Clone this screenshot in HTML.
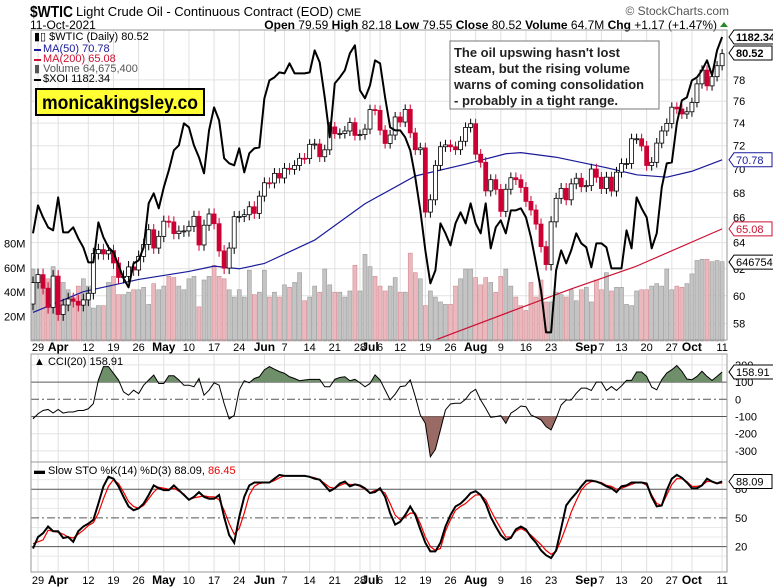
<!DOCTYPE html>
<html><head><meta charset="utf-8"><style>
html,body{margin:0;padding:0;background:#fff;}
svg{display:block;font-family:"Liberation Sans",Arial,sans-serif;}
</style></head><body>
<svg id="c" width="773" height="588" viewBox="0 0 773 588" xmlns="http://www.w3.org/2000/svg">
<text x="30" y="17" font-size="16" font-weight="bold" textLength="43" lengthAdjust="spacingAndGlyphs">$WTIC</text>
<text x="76" y="16" font-size="13">Light Crude Oil - Continuous Contract (EOD) <tspan font-size="11">CME</tspan></text>
<text x="30" y="29" font-size="12">11-Oct-2021</text>
<text x="729" y="15" font-size="12" fill="#555" text-anchor="end">© StockCharts.com</text>
<text x="717" y="29" font-size="12" text-anchor="end"><tspan font-weight="bold">Open</tspan> 79.59  <tspan font-weight="bold">High</tspan> 82.18  <tspan font-weight="bold">Low</tspan> 79.55  <tspan font-weight="bold">Close</tspan> 80.52  <tspan font-weight="bold">Volume</tspan> 64.7M  <tspan font-weight="bold">Chg</tspan> +1.17 (+1.47%)</text>
<polygon points="720,27 728,27 724,22" fill="#2a8a2a"/>
<g id="grid"></g>
<g id="vol"></g>
<g id="ma"></g>
<g id="candles"></g>
<g id="xoi"></g>
<g id="ind"></g>
<g id="axes"></g>
<rect x="31" y="30" width="696" height="310" fill="none" stroke="#999"/>
<rect x="31" y="354" width="696" height="108" fill="none" stroke="#999"/>
<rect x="31" y="462" width="696" height="110" fill="none" stroke="#999"/>
<g font-size="11">
<text x="34" y="40">▮▯ $WTIC (Daily) 80.52</text>
<rect x="34" y="49" width="7" height="2" fill="#1a1a9a"/><text x="43" y="52" fill="#1a1a9a">MA(50) 70.78</text>
<rect x="34" y="59" width="7" height="2" fill="#cc1133"/><text x="43" y="62" fill="#cc1133">MA(200) 65.08</text>
<text x="34" y="72" fill="#555">▮ Volume 64,675,400</text>
<rect x="34" y="79" width="7" height="2" fill="#000"/><text x="43" y="82">$XOI 1182.34</text>
</g>
<rect x="36" y="89" width="168" height="26" fill="#ffff33" stroke="#000" stroke-width="2"/>
<text x="42" y="109" font-size="19" font-weight="bold" textLength="156" lengthAdjust="spacingAndGlyphs">monicakingsley.co</text>
<rect x="450" y="41" width="209" height="68" fill="#fff" stroke="#777"/>
<g font-size="13" font-weight="bold" fill="#222">
<text x="454" y="57" textLength="166" lengthAdjust="spacingAndGlyphs">The oil upswing hasn't lost</text>
<text x="454" y="73" textLength="176" lengthAdjust="spacingAndGlyphs">steam, but the rising volume</text>
<text x="454" y="89" textLength="190" lengthAdjust="spacingAndGlyphs">warns of coming consolidation</text>
<text x="454" y="105" textLength="164" lengthAdjust="spacingAndGlyphs">- probably in a tight range.</text>
</g>
<text x="34" y="365" font-size="11">▲ CCI(20) 158.91</text>
<text x="34" y="474" font-size="11">▬ Slow STO %K(14) %D(3) 88.09, <tspan fill="#e00">86.45</tspan></text>
</svg>
<script>
const closes=[60.97,61.56,60.55,59.16,61.45,58.65,59.33,59.77,59.60,59.32,59.70,60.18,63.15,63.46,63.13,63.38,62.44,61.35,61.43,62.14,61.91,62.94,63.86,65.01,63.58,64.49,65.69,65.63,64.71,64.90,64.92,65.28,66.08,63.82,65.37,66.27,65.49,63.36,62.05,63.58,66.05,66.07,66.21,66.85,66.32,67.72,68.83,68.81,69.62,69.23,70.05,69.96,70.29,70.91,70.88,72.12,72.15,71.04,71.64,73.66,73.06,73.08,73.30,74.05,72.91,72.98,73.47,75.23,75.16,73.37,72.20,72.94,74.56,74.10,75.25,73.13,71.65,71.81,66.42,67.42,70.30,71.91,72.07,71.91,71.65,72.39,73.62,73.95,71.26,70.56,68.15,69.09,68.28,66.48,68.29,69.25,69.09,68.44,67.29,66.59,65.46,63.69,62.32,65.64,67.54,68.36,67.42,68.74,69.21,68.50,68.59,69.99,69.29,68.35,69.30,68.14,69.72,70.45,70.46,72.61,72.61,71.97,70.29,70.56,72.23,73.30,73.98,75.45,75.29,74.83,75.03,75.88,77.62,78.93,77.43,78.30,79.35,80.52];
const firstOpen=59.4;
const volumes=[59,48,53,51,61,53,48,42,36,45,51,45,27,29,29,48,53,38,38,40,42,42,44,30,47,42,45,53,52,45,42,51,53,28,50,53,62,53,51,42,36,42,36,58,38,40,
58,36,40,36,46,44,48,56,33,36,45,40,59,46,40,40,36,41,62,41,71,61,53,45,41,45,52,40,40,72,56,51,29,41,36,32,30,30,45,51,59,59,52,46,52,48,40,53,
59,45,36,29,25,48,36,50,32,32,40,38,36,42,33,42,44,32,50,42,56,41,44,44,30,29,41,42,42,45,47,45,59,42,45,44,47,55,66,67,67,65,66,65];
const xoi=[986,1014,1002,992,989,1022,987,987,992,981,972,957,957,997,982,972,967,954,941,932,956,959,972,1016,1026,1011,1032,1049,1069,1074,1096,1092,1074,1062,1046,1089,1112,1099,1061,1056,1054,1071,1047,1066,1071,1072,1121,1139,1142,
1147,1146,1156,1146,1146,1146,1147,1169,1157,1122,1082,1136,1142,1149,1166,1174,1129,1121,1134,1159,1156,1122,1092,1089,1089,1082,1069,1042,1009,969,936,949,996,986,974,996,1007,996,1016,996,986,1016,971,992,999,986,1009,
1009,1011,1002,982,956,929,887,887,949,969,956,969,986,976,972,952,976,976,972,951,951,951,989,971,1022,1011,1002,971,986,1032,1056,1057,1096,1119,1122,1139,1142,1149,1159,1144,1169,1182.34];
const ma50Idx=[0,10,21,31,36,41,46,56,66,76,86,94,97,104,114,120,126,131,137];
const ma50Val=[58.8,60.3,61.2,61.8,62.2,62.0,62.4,64.2,67.1,69.4,70.4,71.3,71.4,71.0,70.1,69.5,69.3,69.8,70.78];
const ma200Idx=[78,96,107,120,137];
const ma200Val=[56.6,59.0,60.5,62.2,65.08];
const cci=[-114,-84,-65,-59,-80,-59,-80,-74,-74,-65,-65,-55,-25,112,190,190,151,112,43,24,53,33,82,112,141,92,92,137,137,112,82,82,73,121,24,53,96,82,-25,-114,-94,53,108,96,121,131,171,190,175,161,151,131,121,108,112,116,116,116,73,73,116,127,131,108,116,96,73,92,
142,113,54,-4,30,74,78,113,16,-91,-140,-334,-291,-178,-62,-27,-23,-23,0,39,58,-4,-52,-105,-101,-95,-140,-81,-62,-39,-43,-91,-105,-120,-159,-178,-111,-33,-4,-4,
35,65,65,51,100,100,51,74,51,78,110,110,159,159,133,71,55,114,153,172,196,163,118,114,133,163,133,110,133,158.91];
const stoK=[18,30,34,41,36,36,29,30,25,36,41,44,48,65,83,93,91,83,72,62,58,60,65,74,84,81,79,79,84,79,74,69,72,77,72,70,70,74,51,32,24,51,72,84,87,87,87,87,91,95,94,94,94,94,94,93,91,90,84,78,81,86,88,83,85,84,81,76,
77,81,72,55,43,46,53,62,53,38,24,15,15,24,41,53,62,65,70,76,78,74,65,51,41,32,27,29,38,41,38,30,24,16,11,8,16,39,
63,70,76,83,89,89,88,86,83,81,77,83,84,87,87,87,86,72,62,63,79,91,95,92,87,81,81,84,91,88,86,88.09];
const stoD=[23,25,27,37,36,35,33,30,29,33,37,42,45,55,70,83,90,86,77,67,62,60,63,70,77,82,81,80,81,78,75,69,71,72,73,72,72,69,58,44,33,39,55,74,83,86,87,87,89,92,94,94,94,94,94,93,92,90,86,82,81,84,86,85,85,83,80,76,
79,79,76,65,53,48,51,55,55,44,30,20,16,18,36,48,58,62,65,70,74,74,69,58,48,39,30,30,36,39,36,32,27,22,16,12,15,27,
41,56,68,79,85,88,88,87,84,83,80,81,83,85,87,87,84,74,65,63,74,85,91,91,88,83,83,84,88,88,86,86.45];
const tickIdx=[1,5,11,16,21,26,31,36,41,46,50,55,60,65,67,69,73,78,83,88,93,98,103,110,113,117,122,127,131,137];
const tickLbl=["29","Apr","12","19","26","May","10","17","24","Jun","7","14","21","28","Jul","6","12","19","26","Aug","9","16","23","Sep","7","13","20","27","Oct","11"];
const priceTicks=[58,60,62,64,66,68,70,72,74,76,78];
const volTicks=[20,40,60,80];
const volTickLbl=["20M","40M","60M","80M"];
const cciTicks=[200,100,0,-100,-200,-300];
const stoTicks=[20,50,80];

const NS="http://www.w3.org/2000/svg";
const X=i=>33+i*5.03;
const PY=p=>59+Math.log(80/p)*823;
const VY=v=>341-v*1.22;
const XY=v=>37+(1182.34-v);
const CY=v=>399.3-v*0.172;
const SY=v=>565.7-v*0.956;
function mk(tag,attrs,parent){const e=document.createElementNS(NS,tag);for(const k in attrs)e.setAttribute(k,attrs[k]);document.getElementById(parent).appendChild(e);return e;}
const svg=document.getElementById('c');
const defs=document.createElementNS(NS,'defs');
defs.innerHTML='<clipPath id="mainClip"><rect x="31" y="30" width="696" height="310"/></clipPath><clipPath id="cciUp"><rect x="31" y="354" width="696" height="'+(CY(100)-354)+'"/></clipPath><clipPath id="cciDn"><rect x="31" y="'+CY(-100)+'" width="696" height="'+(462-CY(-100))+'"/></clipPath>';
svg.insertBefore(defs,svg.firstChild);

for(const p of priceTicks){
 const l=mk('line',{x1:31,x2:727,y1:PY(p),y2:PY(p),stroke:'#e2e2e2'},'grid');
 
 
 const t=mk('text',{x:733,y:PY(p)+4,'font-size':11},'axes');t.textContent=p;
 
 
}
for(let k=0;k<volTicks.length;k++){
 const t=mk('text',{x:4,y:VY(volTicks[k])+4,'font-size':11},'axes');t.textContent=volTickLbl[k];
 
 
}
for(let k=0;k<tickIdx.length;k++){
 const x=X(tickIdx[k]);
 for(const [a,b] of [[30,340],[354,462],[462,572]]){
  const l=mk('line',{x1:x,x2:x,y1:a,y2:b,stroke:'#e0e0e0'},'grid');
  
  
 }
 const bold=isNaN(+tickLbl[k]);
 for(const yy of [351,584]){
  const t=mk('text',{x:x,y:yy,'font-size':bold?12:11,'font-weight':bold?'bold':'normal','text-anchor':'middle'},'axes');t.textContent=tickLbl[k];
  
  
 }
}
for(const v of cciTicks){
 const solid=(v===100||v===-100), dd=(v===0);
 const l=mk('line',{x1:31,x2:727,y1:CY(v),y2:CY(v),stroke:(solid||dd)?'#555':'#e2e2e2','stroke-dasharray':dd?'8,3,2,3':'none'},'grid');
 
 
 const t=mk('text',{x:735,y:CY(v)+4,'font-size':11},'axes');t.textContent=v;
 
 
}
for(let v=10;v<100;v+=10){
 const main=stoTicks.includes(v);
 const l=mk('line',{x1:31,x2:727,y1:SY(v),y2:SY(v),stroke:main?'#555':'#e8e8e8','stroke-dasharray':v===50?'8,3,2,3':'none'},'grid');
 
 
 if(main){const t=mk('text',{x:735,y:SY(v)+4,'font-size':11},'axes');t.textContent=v;
 
 }
}
for(let i=0;i<closes.length;i++){
 const o=i?closes[i-1]:firstOpen, c=closes[i], up=c>=o, x=X(i);
 const vb=mk('rect',{x:x-2,y:VY(volumes[i]),width:4,height:341-VY(volumes[i]),fill:up?'#c4c4c4':'#ebb8bd',stroke:up?'#999':'#d08a92','stroke-width':0.6},'vol');
 
 
 const hi=Math.max(o,c)+0.45, lo=Math.min(o,c)-0.45;
 const w=mk('line',{x1:x,x2:x,y1:PY(hi),y2:PY(lo),stroke:up?'#000':'#cc0033'},'candles');
 
 
 const top=PY(Math.max(o,c)), bot=PY(Math.min(o,c));
 const b=mk('rect',{x:x-2,y:top,width:4,height:Math.max(1,bot-top),fill:up?'#fff':'#cc0033',stroke:up?'#000':'#cc0033','stroke-width':0.8},'candles');
 
 
}
const m50=mk('polyline',{points:ma50Idx.map((d,k)=>X(d)+','+PY(ma50Val[k])).join(' '),fill:'none',stroke:'#1a1a9a','stroke-width':1.2},'ma');


const m200=mk('polyline',{points:ma200Idx.map((d,k)=>X(d)+','+PY(ma200Val[k])).join(' '),fill:'none',stroke:'#cc1133','stroke-width':1.2,'clip-path':'url(#mainClip)'},'ma');


const xl=mk('polyline',{points:xoi.map((v,i)=>X(i)+','+XY(v)).join(' '),fill:'none',stroke:'#000','stroke-width':2,'stroke-linejoin':'round'},'xoi');


const cpts=cci.map((v,i)=>X(i)+','+CY(v)).join(' ');
const f1=mk('polygon',{points:X(0)+','+CY(100)+' '+cpts+' '+X(cci.length-1)+','+CY(100),fill:'#6f8f6a','clip-path':'url(#cciUp)'},'ind');


const f2=mk('polygon',{points:X(0)+','+CY(-100)+' '+cpts+' '+X(cci.length-1)+','+CY(-100),fill:'#9a6a64','clip-path':'url(#cciDn)'},'ind');


const cl=mk('polyline',{points:cpts,fill:'none',stroke:'#000','stroke-width':1},'ind');


const dl=mk('polyline',{points:stoD.map((v,i)=>X(i)+','+SY(v)).join(' '),fill:'none',stroke:'#ee0000','stroke-width':1.2},'ind');


const kl=mk('polyline',{points:stoK.map((v,i)=>X(i)+','+SY(v)).join(' '),fill:'none',stroke:'#000','stroke-width':2},'ind');


const tags=[[XY(1182.34),'1182.34','#000',true],[53,'80.52','#000',true],[PY(70.78),'70.78','#1a1a9a',false],[PY(65.08),'65.08','#cc1133',false],[VY(64.7),'64675400','#000',false],[CY(158.91),'158.91','#000',false],[SY(88.09),'88.09','#000',false]];
for(const [y,txt,col,bold] of tags){
 const w=txt.length*6.4+6;
 const p=mk('polygon',{points:`729,${y} 734,${y-7} ${734+w},${y-7} ${734+w},${y+7} 734,${y+7}`,fill:'#fff',stroke:col},'axes');
 
 
 const t=mk('text',{x:736,y:y+4,'font-size':11,fill:col,'font-weight':bold?'bold':'normal'},'axes');t.textContent=txt;
 
 
}
</script>
</body></html>
